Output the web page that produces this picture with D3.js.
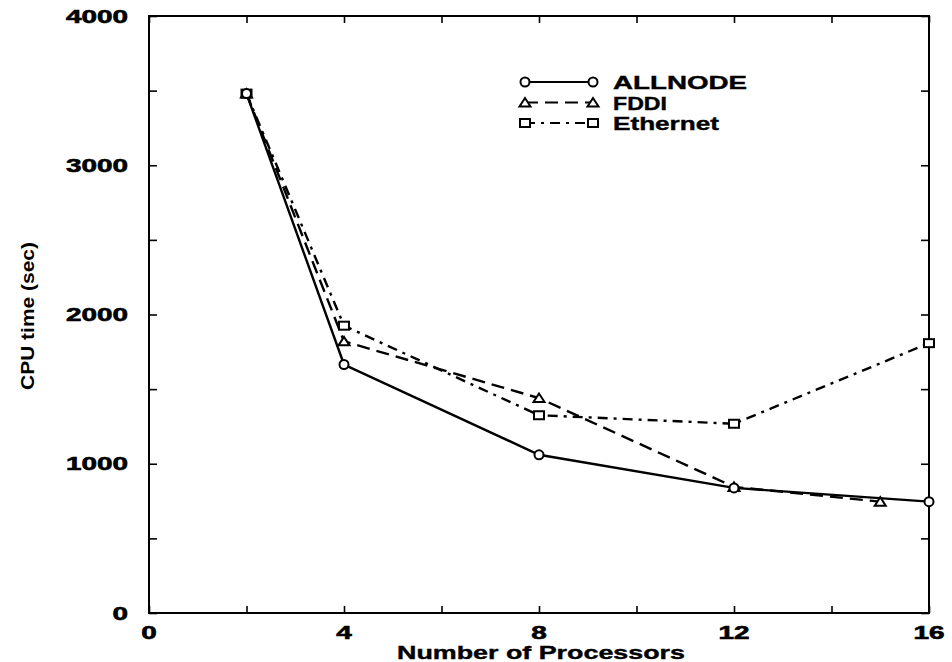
<!DOCTYPE html>
<html><head><meta charset="utf-8">
<script src="https://cdn.jsdelivr.net/npm/d3@7"></script>
<style>body{margin:0;background:#fff}svg{display:block}</style>
</head><body>
<svg id="c" width="952" height="662"></svg>
<script>
const xTicks = [0, 4, 8, 12, 16];
const yTicks = [0, 1000, 2000, 3000, 4000];
const allnodeX = [2, 4, 8, 12, 16];
const allnodeY = [3480, 1665, 1060, 838, 746];
const fddiX = [2, 4, 8, 12, 15];
const fddiY = [3480, 1820, 1440, 845, 746];
const ethernetX = [2, 4, 8, 12, 16];
const ethernetY = [3480, 1925, 1325, 1268, 1808];
const seriesNames = ["ALLNODE", "FDDI", "Ethernet"];

const svg = d3.select("#c");
const L = 149, R = 929, T = 16, B = 613;
const x = d3.scaleLinear().domain([0, 16]).range([L, R]);
const y = d3.scaleLinear().domain([0, 4000]).range([B, T]);
const font = "'Liberation Sans', Arial, Helvetica, sans-serif";

// frame
svg.append("rect").attr("x", L).attr("y", T).attr("width", R - L).attr("height", B - T)
  .attr("fill", "none").attr("stroke", "#000").attr("stroke-width", 2);

// axes with inner ticks
const minorX = d3.range(0, 17, 2), minorY = d3.range(0, 4001, 500);
const bottomAx = d3.axisBottom(x).tickValues(minorX).tickSize(-7).tickFormat("");
const topAx = d3.axisTop(x).tickValues(minorX).tickSize(-7).tickFormat("");
const leftAx = d3.axisLeft(y).tickValues(minorY).tickSize(-8).tickFormat("");
const rightAx = d3.axisRight(y).tickValues(minorY).tickSize(-8).tickFormat("");
[[bottomAx, `translate(0,${B})`], [topAx, `translate(0,${T})`], [leftAx, `translate(${L},0)`], [rightAx, `translate(${R},0)`]]
  .forEach(([ax, tr]) => {
    const g = svg.append("g").attr("transform", tr).call(ax);
    g.select(".domain").remove();
    g.selectAll("line").attr("stroke", "#000").attr("stroke-width", 1.6);
  });

// tick labels (wide heavy digits)
svg.append("g").selectAll("text").data(xTicks).join("text")
  .attr("x", d => x(d)).attr("y", 639).attr("text-anchor", "middle")
  .attr("font-family", font).attr("font-weight", "bold").attr("font-size", 18)
  .attr("stroke", "#000").attr("stroke-width", 0.6)
  .attr("textLength", d => String(d).length * 15.5).attr("lengthAdjust", "spacingAndGlyphs")
  .text(d => d);
svg.append("g").selectAll("text").data(yTicks).join("text")
  .attr("x", 128).attr("y", d => y(d) + 6.5).attr("text-anchor", "end")
  .attr("font-family", font).attr("font-weight", "bold").attr("font-size", 18)
  .attr("stroke", "#000").attr("stroke-width", 0.6)
  .attr("textLength", d => String(d).length * 15.5).attr("lengthAdjust", "spacingAndGlyphs")
  .text(d => d);

// axis titles
svg.append("text").attr("x", 541).attr("y", 659).attr("text-anchor", "middle")
  .attr("font-family", font).attr("font-weight", "bold").attr("font-size", 19)
  .attr("stroke", "#000").attr("stroke-width", 0.4)
  .attr("textLength", 288).attr("lengthAdjust", "spacingAndGlyphs")
  .text("Number of Processors");
svg.append("text").attr("transform", "translate(34,316) rotate(-90)")
  .attr("text-anchor", "middle").attr("font-family", font).attr("font-weight", "bold")
  .attr("font-size", 19).attr("textLength", 148).attr("lengthAdjust", "spacingAndGlyphs")
  .text("CPU time (sec)");

const dashes = ["none", "13,7", "10,6,3,6"];
const markers = ["circle", "triangle", "square"];
const data = [
  allnodeX.map((v, i) => [v, allnodeY[i]]),
  fddiX.map((v, i) => [v, fddiY[i]]),
  ethernetX.map((v, i) => [v, ethernetY[i]])
];
const line = d3.line().x(d => x(d[0])).y(d => y(d[1]));

function drawMarker(g, type, cx, cy) {
  if (type === "circle") {
    g.append("circle").attr("cx", cx).attr("cy", cy).attr("r", 4.5)
      .attr("fill", "#fff").attr("stroke", "#000").attr("stroke-width", 2);
  } else if (type === "triangle") {
    g.append("path").attr("d", `M${cx - 5.5},${cy + 4}L${cx + 5.5},${cy + 4}L${cx},${cy - 4.5}Z`)
      .attr("fill", "#fff").attr("stroke", "#000").attr("stroke-width", 2);
  } else {
    g.append("rect").attr("x", cx - 5).attr("y", cy - 4).attr("width", 10).attr("height", 8)
      .attr("fill", "#fff").attr("stroke", "#000").attr("stroke-width", 2);
  }
}

// draw lines then markers
[2, 1, 0].forEach(i => {
  svg.append("path").datum(data[i]).attr("d", line).attr("fill", "none")
    .attr("stroke", "#000").attr("stroke-width", 2.4).attr("stroke-dasharray", dashes[i]);
});
[2, 1, 0].forEach(i => {
  const g = svg.append("g");
  data[i].forEach(d => drawMarker(g, markers[i], x(d[0]), y(d[1])));
});

// legend
const legendLen = [134, 54, 106];
const lg = svg.append("g");
seriesNames.forEach((name, i) => {
  const ly = 82 + i * 20.5;
  lg.append("line").attr("x1", 525).attr("x2", 593).attr("y1", ly).attr("y2", ly)
    .attr("stroke", "#000").attr("stroke-width", 2).attr("stroke-dasharray", dashes[i]);
  drawMarker(lg, markers[i], 525, ly);
  drawMarker(lg, markers[i], 593, ly);
  lg.append("text").attr("x", 613).attr("y", ly + 7).attr("font-family", font)
    .attr("font-weight", "bold").attr("font-size", 19)
    .attr("stroke", "#000").attr("stroke-width", 0.4)
    .attr("textLength", legendLen[i]).attr("lengthAdjust", "spacingAndGlyphs").text(name);
});
</script>
</body></html>
